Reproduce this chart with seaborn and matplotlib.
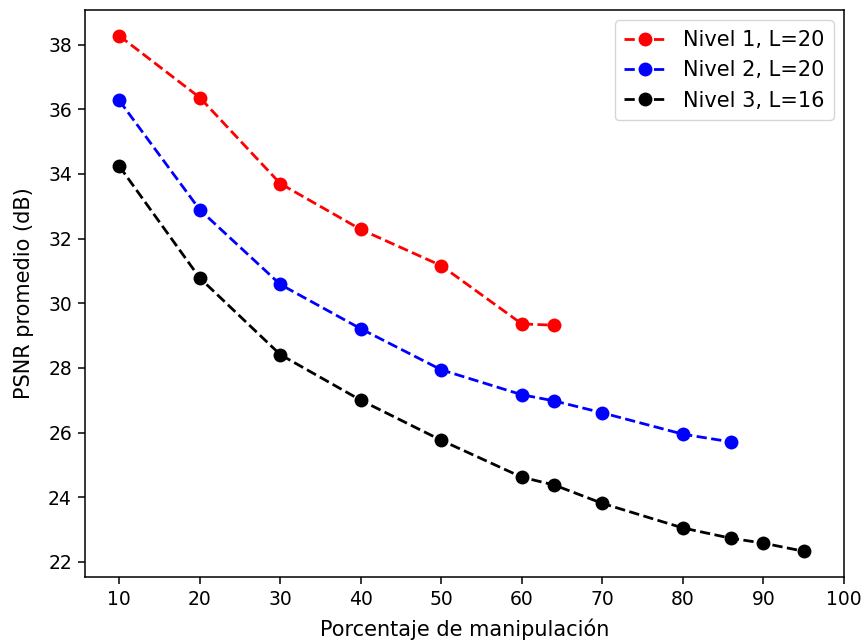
import matplotlib
matplotlib.use("Agg")
import matplotlib.pyplot as plt
import seaborn as sns
import pandas as pd

# PSNR promedio frente al porcentaje de manipulación
x_n1 = [10, 20, 30, 40, 50, 60, 64]
psnr_n1 = [38.27, 36.36, 33.70, 32.28, 31.16, 29.36, 29.32]

x_n2 = [10, 20, 30, 40, 50, 60, 64, 70, 80, 86]
psnr_n2 = [36.27, 32.89, 30.58, 29.21, 27.94, 27.17, 26.98, 26.61, 25.95, 25.71]

x_n3 = [10, 20, 30, 40, 50, 60, 64, 70, 80, 86, 90, 95]
psnr_n3 = [34.24, 30.78, 28.41, 27.00, 25.76, 24.62, 24.38, 23.81, 23.05, 22.73, 22.58, 22.33]

labels = ["Nivel 1, L=20", "Nivel 2, L=20", "Nivel 3, L=16"]
colors = ["red", "blue", "black"]

frames = []
for lab, xs, ys in zip(labels, [x_n1, x_n2, x_n3], [psnr_n1, psnr_n2, psnr_n3]):
    frames.append(pd.DataFrame({"x": xs, "y": ys, "serie": lab}))
df = pd.concat(frames, ignore_index=True)

plt.rcParams["font.family"] = ["DejaVu Sans"]

fig = plt.figure(figsize=(8.63, 6.42), dpi=100)
ax = fig.add_axes([0.0985, 0.1012, 0.8795, 0.8832])

for lab, col in zip(labels, colors):
    sub = df[df["serie"] == lab]
    sns.lineplot(data=sub, x="x", y="y", ax=ax, color=col, linestyle="--",
                 marker="o", markersize=10, markeredgewidth=0, linewidth=2.0,
                 label=lab, estimator=None, sort=False)

ax.set_xlim(right=100)
ax.set_xticks(range(10, 101, 10))
ax.set_yticks(range(22, 39, 2))
ax.set_xlabel("Porcentaje de manipulación", fontsize=15, labelpad=7)
ax.set_ylabel("PSNR promedio (dB)", fontsize=15, labelpad=10)
ax.tick_params(labelsize=13.5, length=4.7, width=1.1, pad=4.7)
for s in ax.spines.values():
    s.set_linewidth(1.1)

leg = ax.legend(loc="upper right", fontsize=15, frameon=True, borderpad=0.45,
                handlelength=2.0, labelspacing=0.5, borderaxespad=0.5)
leg.get_frame().set_edgecolor("#cccccc")

fig.savefig("out.png", dpi=100)
